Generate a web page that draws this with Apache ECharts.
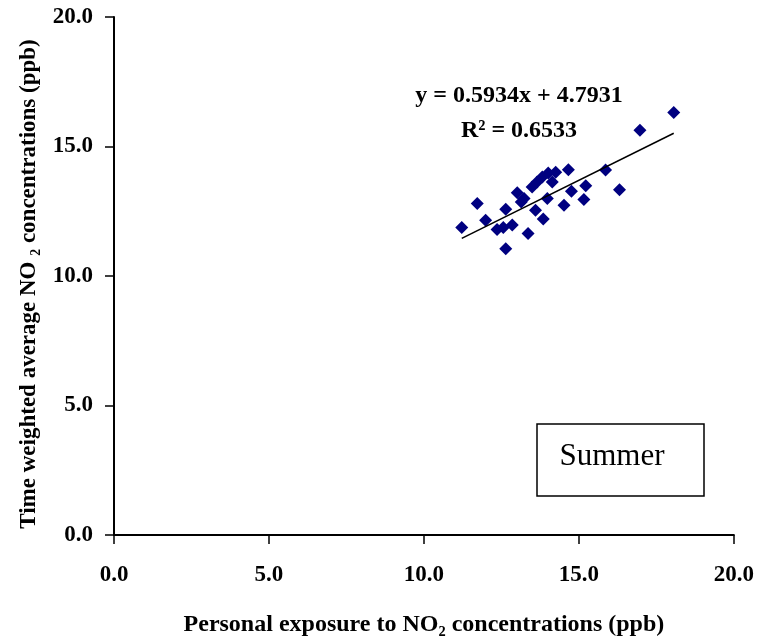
<!DOCTYPE html>
<html>
<head>
<meta charset="utf-8">
<script src="https://cdn.jsdelivr.net/npm/echarts@6/dist/echarts.min.js"></script>
<style>
  html, body { margin: 0; padding: 0; background: #fff; }
  #main { width: 757px; height: 642px; }
</style>
</head>
<body>
<div id="main"></div>
<script>
// personal exposure (x) vs time weighted average (y), ppb
const exposureX = [11.22, 11.72, 11.99, 12.36, 12.56, 12.85, 12.64, 12.64, 13.36, 13.01,
  13.14, 13.23, 13.49, 13.65, 13.82, 14.01, 14.25, 14.66, 14.14, 13.60,
  13.85, 13.98, 14.76, 15.22, 15.16, 14.52, 15.86, 16.31, 16.97, 18.06]
const twaY = [11.87, 12.80, 12.15, 11.80, 11.87, 11.97, 12.58, 11.05, 11.64, 13.21,
  12.86, 12.99, 13.44, 13.63, 13.82, 13.98, 14.01, 14.10, 13.63, 12.54,
  12.20, 12.99, 13.27, 13.48, 12.95, 12.73, 14.09, 13.33, 15.63, 16.31]

// linear trend ends (as drawn)
const trendX = [11.22, 18.06]
const trendY = [11.45, 15.51]

const eqText = 'y = 0.5934x + 4.7931'
const r2Text = 'R² = 0.6533'
const seasonText = 'Summer'

const axisTicks = [0, 5, 10, 15, 20]

const font = '"Liberation Serif", "Times New Roman", serif'

const chartDom = document.getElementById('main')
const myChart = echarts.init(chartDom)

const points = exposureX.map((x, i) => [x, twaY[i]])
const trend = trendX.map((x, i) => [x, trendY[i]])

const axisCommon = {
  type: 'value',
  min: axisTicks[0],
  max: axisTicks[axisTicks.length - 1],
  interval: 5,
  splitLine: { show: false },
  axisLine: { show: true, onZero: false, lineStyle: { color: '#000', width: 2 } },
  axisTick: { show: true, inside: false, length: 9, lineStyle: { color: '#000', width: 1.5 } },
  axisLabel: {
    color: '#000',
    fontFamily: font,
    fontWeight: 'bold',
    fontSize: 23,
    formatter: v => v.toFixed(1)
  },
  nameTextStyle: {
    color: '#000',
    fontFamily: font,
    fontWeight: 'bold',
    fontSize: 24
  }
}

const option = {
  animation: false,
  backgroundColor: '#fff',
  grid: { left: 114, right: 22, top: 17, bottom: 103, containLabel: false },
  xAxis: Object.assign({}, axisCommon, {
    name: 'Personal exposure to NO₂ concentrations (ppb)',
    nameLocation: 'middle',
    nameGap: 78,
    axisLabel: Object.assign({}, axisCommon.axisLabel, { margin: 29 })
  }),
  yAxis: Object.assign({}, axisCommon, {
    name: 'Time weighted average NO ₂ concentrations (ppb)',
    nameLocation: 'middle',
    nameGap: 73,
    nameTextStyle: Object.assign({}, axisCommon.nameTextStyle, { fontSize: 23, padding: [0, 16, 0, 0] }),
    axisLabel: Object.assign({}, axisCommon.axisLabel, { margin: 21 })
  }),
  series: [
    {
      type: 'scatter',
      data: points,
      symbol: 'diamond',
      symbolSize: 13,
      itemStyle: { color: '#000080', opacity: 1 },
      z: 3
    },
    {
      type: 'line',
      data: trend,
      symbol: 'none',
      lineStyle: { color: '#000', width: 1.5 },
      z: 4
    }
  ],
  graphic: [
    {
      type: 'text',
      x: 519, y: 96,
      style: { text: eqText, font: 'bold 24px ' + font, fill: '#000', align: 'center', verticalAlign: 'middle' }
    },
    {
      type: 'text',
      x: 519, y: 131,
      style: { text: r2Text, font: 'bold 24px ' + font, fill: '#000', align: 'center', verticalAlign: 'middle' }
    },
    {
      type: 'rect',
      shape: { x: 537, y: 424, width: 167, height: 72 },
      style: { fill: '#fff', stroke: '#000', lineWidth: 1.5 }
    },
    {
      type: 'text',
      x: 612, y: 457,
      style: { text: seasonText, font: '31px ' + font, fill: '#000', align: 'center', verticalAlign: 'middle' }
    }
  ]
}

option && myChart.setOption(option)
</script>
</body>
</html>
